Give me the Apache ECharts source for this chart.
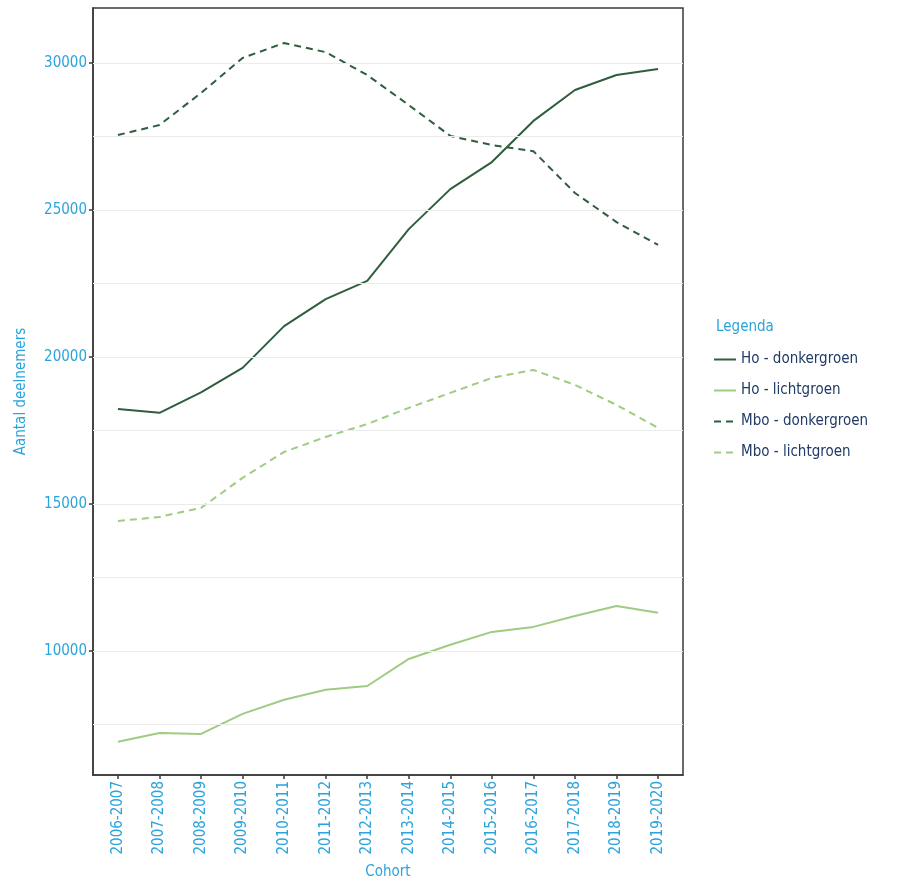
<!DOCTYPE html>
<html><head><meta charset="utf-8">
<script src="https://cdn.jsdelivr.net/npm/echarts@6/dist/echarts.min.js"></script>
<style>html,body{margin:0;padding:0;background:#fff}#c{width:897px;height:882px}</style>
</head><body><div id="c"></div>
<script>
const categories = ['2006-2007','2007-2008','2008-2009','2009-2010','2010-2011','2011-2012','2012-2013','2013-2014','2014-2015','2015-2016','2016-2017','2017-2018','2018-2019','2019-2020'];
const hoDonker = [18230,18100,18800,19630,21050,21970,22590,24350,25710,26630,28030,29080,29590,29800];
const hoLicht = [6910,7210,7180,7860,8340,8680,8810,9730,10210,10650,10820,11190,11530,11300];
const mboDonker = [27550,27890,28980,30170,30680,30370,29590,28570,27520,27210,27000,25580,24590,23810];
const mboLicht = [14420,14560,14870,15890,16770,17280,17720,18270,18780,19290,19560,19050,18370,17590];
const yTicks = [10000,15000,20000,25000,30000];
const yGrid = [7500,10000,12500,15000,17500,20000,22500,25000,27500,30000];
const seriesNames = ['Ho - donkergroen','Ho - lichtgroen','Mbo - donkergroen','Mbo - lichtgroen'];

const FONT = '"DejaVu Sans Condensed","Liberation Sans Narrow","Noto Sans",sans-serif';
const BLUE = '#2ba3dc';
const DARK = '#2f5e3f';
const LIGHT = '#9fcb82';
const idx = categories.map((c,i)=>i);
const pts = arr => arr.map((v,i)=>[idx[i], v]);

const chart = echarts.init(document.getElementById('c'), null, {renderer:'canvas'});
chart.setOption({
  animation:false,
  backgroundColor:'#fff',
  title:{text:'Legenda', left:711, top:315, textStyle:{fontFamily:FONT, fontSize:15, fontWeight:'normal', color:BLUE}},
  legend:{
    data:seriesNames, orient:'vertical', left:708, top:347, itemGap:16, itemWidth:22, itemHeight:14,
    itemStyle:{opacity:0},
    textStyle:{fontFamily:FONT, fontSize:15, color:'#1f3a66'}
  },
  grid:{left:93, right:214, top:8, bottom:107, show:true, borderColor:'#3a3a3a', borderWidth:1.5, containLabel:false, outerBoundsMode:'none'},
  xAxis:{
    type:'value', min:-0.6, max:13.6,
    name:'Cohort', nameLocation:'middle', nameGap:90,
    nameTextStyle:{fontFamily:FONT, fontSize:15, color:BLUE},
    axisLine:{show:true, onZero:false, lineStyle:{color:'#3a3a3a', width:1.5}},
    axisTick:{show:true, customValues:idx, length:4, lineStyle:{color:'#3a3a3a', width:1.5}},
    axisLabel:{customValues:idx, rotate:90, margin:6, fontFamily:FONT, fontSize:15, color:BLUE,
      formatter:v=>categories[Math.round(v)] || ''},
    splitLine:{show:false}
  },
  yAxis:{
    type:'value', min:5782, max:31871,
    name:'Aantal deelnemers', nameLocation:'middle', nameGap:64, nameRotate:90,
    nameTextStyle:{fontFamily:FONT, fontSize:15, color:BLUE},
    axisLine:{show:true, onZero:false, lineStyle:{color:'#3a3a3a', width:1.5}},
    axisTick:{show:true, customValues:yTicks, length:4, lineStyle:{color:'#3a3a3a', width:1.5}},
    axisLabel:{customValues:yTicks, margin:6, fontFamily:FONT, fontSize:15, color:BLUE, formatter:v=>String(v)},
    splitLine:{show:false}
  },
  series:[
    {name:'grid', type:'line', data:[], z:1, silent:true,
      markLine:{silent:true, symbol:'none', label:{show:false},
        lineStyle:{color:'#ebebeb', type:'solid', width:1.2},
        data:yGrid.map(v=>({yAxis:v}))}},
    {name:seriesNames[0], type:'line', data:pts(hoDonker), symbol:'none', z:3, color:DARK, lineStyle:{color:DARK, width:2}},
    {name:seriesNames[1], type:'line', data:pts(hoLicht), symbol:'none', z:3, color:LIGHT, lineStyle:{color:LIGHT, width:2}},
    {name:seriesNames[2], type:'line', data:pts(mboDonker), symbol:'none', z:3, color:DARK, lineStyle:{color:DARK, width:2, type:[7,5]}},
    {name:seriesNames[3], type:'line', data:pts(mboLicht), symbol:'none', z:3, color:LIGHT, lineStyle:{color:LIGHT, width:2, type:[7,5]}}
  ]
});
</script></body></html>
